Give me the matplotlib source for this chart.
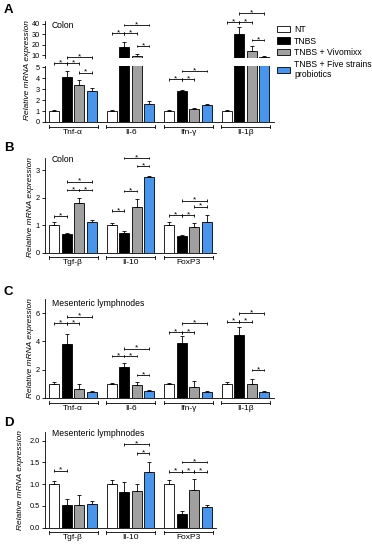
import numpy as np
import matplotlib
matplotlib.use('Agg')
import matplotlib.pyplot as plt
from matplotlib.patches import Patch

plt.rcParams['font.family'] = ['Liberation Sans', 'DejaVu Sans']

W, H = 372, 550

# groups (treatments)
treat = ['NT', 'TNBS', 'TNBS + Vivomixx', 'TNBS + Five strains\nprobiotics']
colors = ['white', 'black', '#a0a0a0', '#4696f0']

# panel A - colon, inflammatory cytokines
genesA = ['Tnf-α', 'Il-6', 'Ifn-γ', 'Il-1β']
meanA = [[1.0, 4.1, 3.35, 2.8], [1.0, 18.0, 9.3, 1.6], [1.0, 2.8, 1.2, 1.55], [1.0, 30.0, 14.0, 8.5]]
errA = [[0.08, 0.5, 0.45, 0.3], [0.1, 5.0, 1.5, 0.35], [0.08, 0.1, 0.05, 0.05], [0.08, 7.0, 4.5, 1.0]]
# brackets: (gene, bar i, bar j, level)
sigA = [(0, 0, 1, 5.36), (0, 1, 2, 5.36), (0, 1, 3, 5.9), (0, 2, 3, 4.5),
        (1, 0, 1, 31.0), (1, 1, 2, 31.0), (1, 1, 3, 39.0), (1, 2, 3, 18.7),
        (2, 0, 1, 3.9), (2, 1, 2, 3.9), (2, 1, 3, 4.65),
        (3, 0, 1, 41.6), (3, 1, 2, 41.6), (3, 1, 3, 50.3), (3, 2, 3, 24.5)]

# panel B - colon, anti-inflammatory
genesB = ['Tgf-β', 'Il-10', 'FoxP3']
meanB = [[1.0, 0.68, 1.8, 1.1], [1.0, 0.72, 1.65, 2.75], [1.0, 0.61, 0.95, 1.13]]
errB = [[0.1, 0.05, 0.18, 0.1], [0.08, 0.07, 0.3, 0.05], [0.1, 0.03, 0.13, 0.24]]
sigB = [(0, 0, 1, 1.33), (0, 1, 2, 2.28), (0, 2, 3, 2.28), (0, 1, 3, 2.58),
        (1, 0, 1, 1.52), (1, 1, 2, 2.24), (1, 2, 3, 3.15), (1, 1, 3, 3.44),
        (2, 0, 1, 1.36), (2, 1, 2, 1.36), (2, 2, 3, 1.67), (2, 1, 3, 1.89)]

# panel C - mesenteric lymphnodes, inflammatory
genesC = ['Tnf-α', 'Il-6', 'Ifn-γ', 'Il-1β']
meanC = [[1.0, 3.85, 0.65, 0.42], [1.0, 2.2, 0.95, 0.5], [1.0, 3.9, 0.78, 0.42], [1.0, 4.45, 1.02, 0.45]]
errC = [[0.1, 0.7, 0.35, 0.05], [0.06, 0.25, 0.2, 0.05], [0.05, 0.45, 0.45, 0.04], [0.1, 0.6, 0.3, 0.06]]
sigC = [(0, 0, 1, 5.28), (0, 1, 2, 5.28), (0, 1, 3, 5.75),
        (1, 0, 1, 2.97), (1, 1, 2, 2.97), (1, 1, 3, 3.5), (1, 2, 3, 1.63),
        (2, 0, 1, 4.64), (2, 1, 2, 4.64), (2, 1, 3, 5.28),
        (3, 0, 1, 5.4), (3, 1, 2, 5.4), (3, 1, 3, 5.98), (3, 2, 3, 1.98)]

# panel D - mesenteric lymphnodes, anti-inflammatory
genesD = ['Tgf-β', 'Il-10', 'FoxP3']
meanD = [[1.0, 0.53, 0.53, 0.54], [1.0, 0.82, 0.85, 1.28], [1.0, 0.32, 0.87, 0.48]]
errD = [[0.08, 0.12, 0.23, 0.07], [0.1, 0.22, 0.16, 0.22], [0.1, 0.06, 0.24, 0.05]]
sigD = [(0, 0, 1, 1.31),
        (1, 2, 3, 1.71), (1, 1, 3, 1.92),
        (2, 0, 1, 1.29), (2, 1, 2, 1.29), (2, 2, 3, 1.29), (2, 1, 3, 1.51)]

PITCH = 4.6
LW = 0.6


def make_ax(fig, x0, x1, ytop, ybot):
    return fig.add_axes([x0 / W, 1 - ybot / H, (x1 - x0) / W, (ybot - ytop) / H])


def px(ax):
    # pixels per data unit on y
    h = ax.get_position().height * H
    lo, hi = ax.get_ylim()
    return h / (hi - lo)


def style(ax, bottom=True):
    for s in ['top', 'right']:
        ax.spines[s].set_visible(False)
    ax.spines['left'].set_linewidth(LW)
    ax.spines['bottom'].set_linewidth(LW)
    if not bottom:
        ax.spines['bottom'].set_visible(False)
    ax.set_xticks([])
    ax.tick_params(axis='y', length=2.5, width=LW, labelsize=5.3, pad=1.2)
    ax.set_facecolor('none')


def bars(ax, means, errs):
    for g in range(len(means)):
        xs = g * PITCH + np.arange(4)
        ax.bar(xs, means[g], width=0.8, color=colors, edgecolor='black', linewidth=LW, zorder=2)
        ax.errorbar(xs, means[g], yerr=[np.zeros(4), errs[g]], fmt='none', ecolor='black',
                    elinewidth=LW, capsize=1.2, capthick=LW, zorder=3)


def bracket(ax, g, i, j, y):
    x1 = g * PITCH + i
    x2 = g * PITCH + j
    d = 1.4 / px(ax)
    kw = dict(color='black', lw=LW, clip_on=False, solid_capstyle='butt')
    ax.plot([x1, x2], [y, y], **kw)
    ax.plot([x1, x1], [y - d, y + d], **kw)
    ax.plot([x2, x2], [y - d, y + d], **kw)
    ax.annotate('*', ((x1 + x2) / 2, y), xytext=(0, -2.2), textcoords='offset points',
                ha='center', va='bottom', fontsize=6, annotation_clip=False)


def group_labels(ax, genes):
    p = px(ax)
    lo = ax.get_ylim()[0]
    y = lo - 4.5 / p
    d = 1.4 / p
    kw = dict(color='black', lw=LW, clip_on=False)
    for g, name in enumerate(genes):
        x1 = g * PITCH - 0.45
        x2 = g * PITCH + 3.45
        ax.plot([x1, x2], [y, y], **kw)
        ax.plot([x1, x1], [y - d, y + d], **kw)
        ax.plot([x2, x2], [y - d, y + d], **kw)
        ax.text(g * PITCH + 1.5, lo - 6.5 / p, name, ha='center', va='top', fontsize=6)


fig = plt.figure(figsize=(W / 100, H / 100), dpi=100)

xlim4 = (-0.75, 3 * PITCH + 3.75)
xlim3 = (-0.75, 2 * PITCH + 3.75)
L, R4 = 45, 45 + (xlim4[1] - xlim4[0]) * 12.5
R3 = 45 + (xlim3[1] - xlim3[0]) * 12.5

# ---- A (broken axis)
axAt = make_ax(fig, L, R4, 20.9, 58.1)
axAb = make_ax(fig, L, R4, 66, 122)
for ax in (axAt, axAb):
    bars(ax, meanA, errA)
    ax.set_xlim(*xlim4)
axAt.set_ylim(7, 43)
axAt.set_yticks([10, 20, 30, 40])
axAb.set_ylim(0, 5.1)
axAb.set_yticks([0, 1, 2, 3, 4, 5])
style(axAt, bottom=False)
style(axAb)
for g, i, j, y in sigA:
    if y < 7:
        bracket(axAb, g, i, j, y)
    else:
        bracket(axAt, g, i, j, y)
group_labels(axAb, genesA)

# ---- B
axB = make_ax(fig, L, R3, 157.8, 252.7)
bars(axB, meanB, errB)
axB.set_xlim(*xlim3)
axB.set_ylim(0, 3.45)
axB.set_yticks([0, 1, 2, 3])
style(axB)
for s in sigB:
    bracket(axB, *s)
group_labels(axB, genesB)

# ---- C
axC = make_ax(fig, L, R4, 299, 398)
bars(axC, meanC, errC)
axC.set_xlim(*xlim4)
axC.set_ylim(0, 7)
axC.set_yticks([0, 2, 4, 6])
style(axC)
for s in sigC:
    bracket(axC, *s)
group_labels(axC, genesC)

# ---- D
axD = make_ax(fig, L, R3, 432, 527.7)
bars(axD, meanD, errD)
axD.set_xlim(*xlim3)
axD.set_ylim(0, 2.2)
axD.set_yticks([0, 0.5, 1.0, 1.5, 2.0])
axD.set_yticklabels(['0.0', '0.5', '1.0', '1.5', '2.0'])
style(axD)
for s in sigD:
    bracket(axD, *s)
group_labels(axD, genesD)

# panel letters, tissue names, y labels
for letter, y in [('A', 10), ('B', 148), ('C', 292), ('D', 423)]:
    fig.text(4 / W, 1 - y / H, letter, fontsize=9.5, fontweight='bold', va='center')
for txt, y in [('Colon', 26), ('Colon', 160), ('Mesenteric lymphnodes', 303), ('Mesenteric lymphnodes', 433)]:
    fig.text(52 / W, 1 - y / H, txt, fontsize=6.2, va='center')
for x, y in [(28, 70), (30, 207), (30, 348), (21, 480)]:
    fig.text(x / W, 1 - y / H, 'Relative mRNA expression', fontsize=6, style='italic',
             rotation=90, ha='center', va='center')

# legend
handles = [Patch(facecolor=c, edgecolor='black', linewidth=LW) for c in colors]
fig.legend(handles, treat, loc='upper left', bbox_to_anchor=(277 / W, 1 - 25 / H),
           frameon=False, fontsize=6.2, handlelength=1.5, handleheight=0.8,
           handletextpad=0.5, labelspacing=0.3, borderaxespad=0, borderpad=0)

fig.savefig('out.png', dpi=100)
